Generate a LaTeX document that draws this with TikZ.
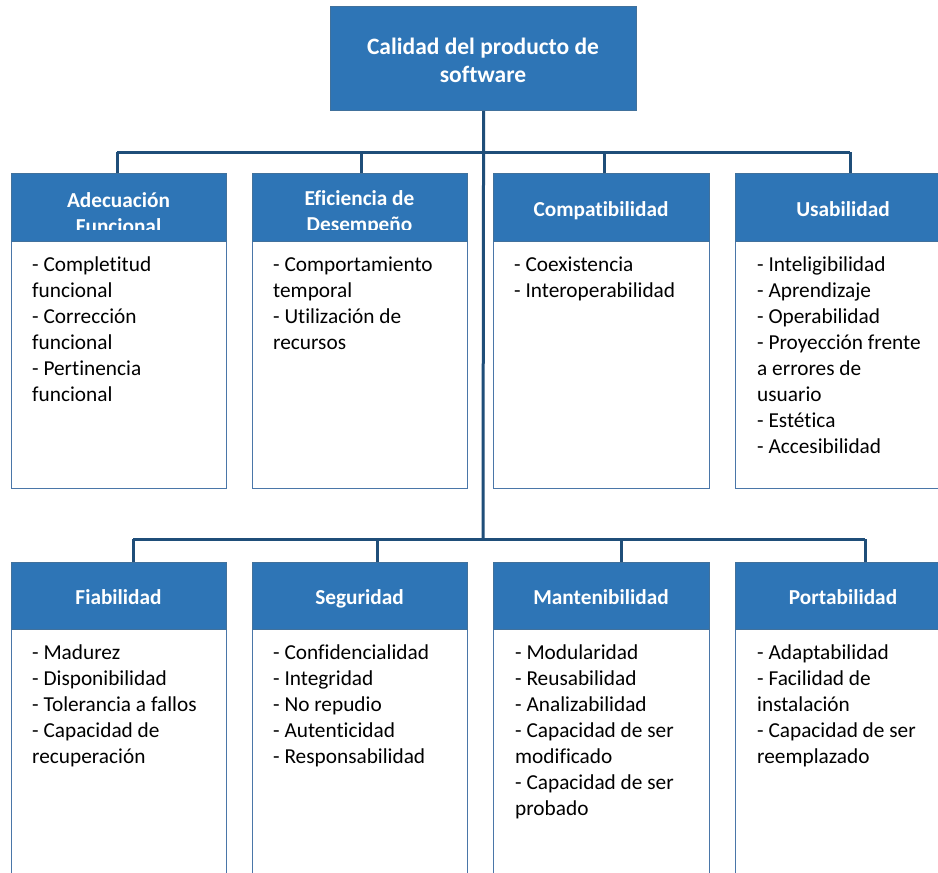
\documentclass[tikz,border=0pt]{standalone}
\usepackage{fontspec}
\setmainfont{Carlito}[Ligatures=NoCommon]
\definecolor{hdrfill}{HTML}{2E75B6}
\definecolor{hdrline}{HTML}{41719C}
\definecolor{bodyline}{HTML}{4A76A8}
\definecolor{linkc}{HTML}{1F4E79}
\begin{document}
\begin{tikzpicture}[x=1pt,y=-1pt,
  hdr/.style={draw=hdrline, fill=hdrfill, line width=1.2pt, anchor=north west, inner sep=0pt},
  bodybox/.style={draw=bodyline, fill=white, line width=1.4pt, anchor=north west, inner sep=0pt},
  link/.style={draw=linkc, line width=3pt},
  htext/.style={text=white, font=\bfseries\fontsize{21.3}{26}\selectfont, align=center, inner sep=0pt},
  htitle/.style={htext, anchor=base},
  btext/.style={anchor=north west, align=left, font=\fontsize{21.3}{26}\selectfont, inner sep=0pt}
]
\useasboundingbox (0,0) rectangle (938,873);
\fill[white] (0,0) rectangle (938,873);

% root box
\node[hdr, minimum width=306pt, minimum height=104pt] (root) at (330,6) {};
\node[htext, font=\bfseries\fontsize{23.5}{28}\selectfont] (roottxt) at (483,60) {Calidad del producto de\\software};

% bus junctions
\coordinate (bus1) at (483,152);
\coordinate (bus2) at (483,539);
\coordinate (d1) at (117,152);
\coordinate (d2) at (361,152);
\coordinate (d3) at (604,152);
\coordinate (d4) at (850,152);
\coordinate (d5) at (133,539);
\coordinate (d6) at (377,539);
\coordinate (d7) at (621,539);
\coordinate (d8) at (865,539);

% connectors
\draw[link] (root.south) -- (bus2);
\draw[link] (d1) -- (d4);
\draw[link] (d5) -- (d8);

% first row
\node[bodybox, minimum width=215pt, minimum height=247pt] (b1) at (11,241) {};
\node[bodybox, minimum width=215pt, minimum height=247pt] (b2) at (252,241) {};
\node[bodybox, minimum width=216pt, minimum height=247pt] (b3) at (493,241) {};
\node[bodybox, minimum width=230pt, minimum height=247pt] (b4) at (735,241) {};
\node[hdr, minimum width=215pt, minimum height=68pt] (h1) at (11,173) {};
\node[hdr, minimum width=215pt, minimum height=68pt] (h2) at (252,173) {};
\node[hdr, minimum width=216pt, minimum height=68pt] (h3) at (493,173) {};
\node[hdr, minimum width=230pt, minimum height=68pt] (h4) at (735,173) {};

% second row
\node[bodybox, minimum width=215pt, minimum height=280pt] (b5) at (11,629) {};
\node[bodybox, minimum width=215pt, minimum height=280pt] (b6) at (252,629) {};
\node[bodybox, minimum width=216pt, minimum height=280pt] (b7) at (493,629) {};
\node[bodybox, minimum width=230pt, minimum height=280pt] (b8) at (735,629) {};
\node[hdr, minimum width=215pt, minimum height=67pt] (h5) at (11,562) {};
\node[hdr, minimum width=215pt, minimum height=67pt] (h6) at (252,562) {};
\node[hdr, minimum width=216pt, minimum height=67pt] (h7) at (493,562) {};
\node[hdr, minimum width=230pt, minimum height=67pt] (h8) at (735,562) {};

% drops from the buses
\draw[link] (d1) -- (d1 |- h1.north);
\draw[link] (d2) -- (d2 |- h2.north);
\draw[link] (d3) -- (d3 |- h3.north);
\draw[link] (d4) -- (d4 |- h4.north);
\draw[link] (d5) -- (d5 |- h5.north);
\draw[link] (d6) -- (d6 |- h6.north);
\draw[link] (d7) -- (d7 |- h7.north);
\draw[link] (d8) -- (d8 |- h8.north);

% header titles (two-line titles are cut by the box)
\begin{scope}
  \clip (11,173) rectangle (226,229);
  \node[htext] (t1) at (118.5,213) {Adecuación\\Funcional};
\end{scope}
\begin{scope}
  \clip (252,173) rectangle (467,229);
  \node[htext] (t2) at (359.5,213) {Eficiencia de\\Desempeño};
\end{scope}
\node[htitle] (t3) at (601,216) {Compatibilidad};
\node[htitle] (t4) at (843,216) {Usabilidad};
\node[htitle] (t5) at (118.5,604) {Fiabilidad};
\node[htitle] (t6) at (359.5,604) {Seguridad};
\node[htitle] (t7) at (601,604) {Mantenibilidad};
\node[htitle] (t8) at (843,604) {Portabilidad};

% item lists
\node[btext] (l1) at (32,257) {- Completitud\\funcional\\- Corrección\\funcional\\- Pertinencia\\funcional};
\node[btext] (l2) at (273,257) {- Comportamiento\\temporal\\- Utilización de\\recursos};
\node[btext] (l3) at (514,257) {- Coexistencia\\- Interoperabilidad};
\node[btext] (l4) at (757,257) {- Inteligibilidad\\- Aprendizaje\\- Operabilidad\\- Proyección frente\\a errores de\\usuario\\- Estética\\- Accesibilidad};
\node[btext] (l5) at (32,645) {- Madurez\\- Disponibilidad\\- Tolerancia a fallos\\- Capacidad de\\recuperación};
\node[btext] (l6) at (273,645) {- Confidencialidad\\- Integridad\\- No repudio\\- Autenticidad\\- Responsabilidad};
\node[btext] (l7) at (515,645) {- Modularidad\\- Reusabilidad\\- Analizabilidad\\- Capacidad de ser\\modificado\\- Capacidad de ser\\probado};
\node[btext] (l8) at (757,645) {- Adaptabilidad\\- Facilidad de\\instalación\\- Capacidad de ser\\reemplazado};
\end{tikzpicture}
\end{document}
